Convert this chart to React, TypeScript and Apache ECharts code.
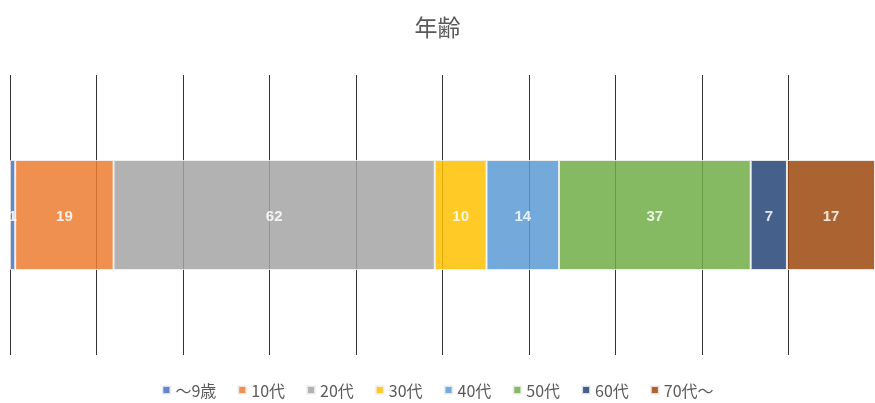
import React, { useEffect, useRef } from "react";
import * as echarts from "echarts";

const categories = ["年齢"];
const seriesNames = ["～9歳", "10代", "20代", "30代", "40代", "50代", "60代", "70代～"];
const seriesValues = [1, 19, 62, 10, 14, 37, 7, 17];
const seriesColors = ["#4472C4", "#ED7D31", "#A5A5A5", "#FFC000", "#5B9BD5", "#70AD47", "#264478", "#9E480E"];

export default function App() {
  const ref = useRef<HTMLDivElement>(null);
  useEffect(() => {
    if (!ref.current) return;
    const chart = echarts.init(ref.current, null, { renderer: "svg" });
    const total = seriesValues.reduce((a, b) => a + b, 0);
    chart.setOption({
      animation: false,
      title: {
        text: "年齢",
        left: "center",
        top: 9,
        textStyle: {
          fontSize: 23,
          fontWeight: "normal",
          color: "#595959",
          fontFamily: "Noto Sans CJK JP",
        },
      },
      legend: {
        bottom: 0,
        left: "center",
        itemWidth: 8,
        itemHeight: 8,
        itemGap: 21,
        icon: "rect",
        textStyle: { fontSize: 16, color: "#595959", fontFamily: "Noto Sans CJK JP" },
        data: seriesNames,
      },
      grid: { left: 10, top: 75, width: 869, height: 280, containLabel: false },
      xAxis: {
        type: "value",
        min: 0,
        max: total,
        interval: total / 10,
        axisLabel: { show: false },
        axisLine: { show: false },
        axisTick: { show: false },
        splitLine: { show: true, lineStyle: { color: "#333", width: 1 } },
      },
      yAxis: {
        type: "category",
        data: categories,
        show: false,
      },
      series: seriesNames.map((name, i) => ({
        name,
        type: "bar",
        stack: "total",
        barWidth: 110,
        data: [seriesValues[i]],
        itemStyle: {
          color: seriesColors[i],
          opacity: 0.85,
          borderColor: "#f2f2f2",
          borderWidth: 1,
        },
        label: {
          show: true,
          position: "inside",
          color: "#fff",
          fontWeight: "bold",
          fontSize: 15,
          fontFamily: "Liberation Sans",
        },
      })),
    });
    return () => chart.dispose();
  }, []);
  return (
    <div
      ref={ref}
      style={{ position: "fixed", left: 0, top: 0, width: 875, height: 403 }}
    />
  );
}
